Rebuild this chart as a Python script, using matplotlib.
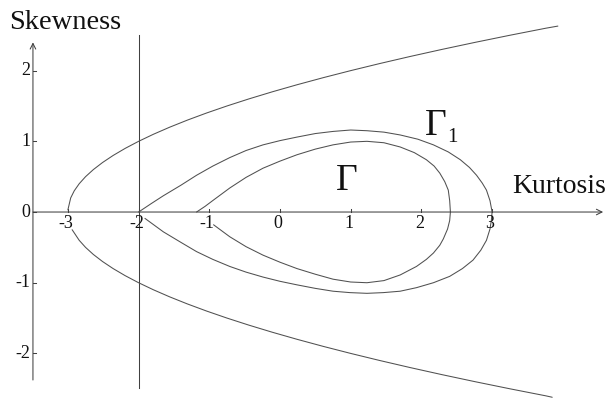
import matplotlib
matplotlib.use("Agg")
import matplotlib.pyplot as plt

# ---- data ----
outer_upper_k = [-3.00, -2.96, -2.91, -2.84, -2.75, -2.64, -2.51, -2.36, -2.19, -2.00, -1.79, -1.56, -1.31,
                 -1.04, -0.75, -0.44, -0.11, 0.24, 0.61, 1.00, 1.41, 1.84, 2.29, 2.76, 3.25, 3.76, 3.93]
outer_upper_s = [0.03, 0.20, 0.30, 0.40, 0.50, 0.60, 0.70, 0.80, 0.90, 1.00, 1.10, 1.20, 1.30,
                 1.40, 1.50, 1.60, 1.70, 1.80, 1.90, 2.00, 2.10, 2.20, 2.30, 2.40, 2.50, 2.60, 2.63]
outer_lower_k = [-2.94, -2.84, -2.75, -2.64, -2.51, -2.36, -2.19, -2.00, -1.79, -1.56, -1.31,
                 -1.04, -0.75, -0.44, -0.11, 0.24, 0.61, 1.00, 1.41, 1.84, 2.29, 2.76, 3.25, 3.76, 3.85]
outer_lower_s = [-0.25, -0.40, -0.50, -0.60, -0.70, -0.80, -0.90, -1.00, -1.10, -1.20, -1.30,
                 -1.40, -1.50, -1.60, -1.70, -1.80, -1.90, -2.00, -2.10, -2.20, -2.30, -2.40, -2.50, -2.60, -2.62]

g1_upper_k = [-2.00, -1.82, -1.65, -1.40, -1.18, -0.95, -0.71, -0.48, -0.24, 0.00, 0.24, 0.50, 0.75, 1.00,
              1.23, 1.47, 1.70, 1.95, 2.17, 2.38, 2.55, 2.68, 2.78, 2.86, 2.92, 2.97, 3.00]
g1_upper_s = [0.00, 0.12, 0.23, 0.38, 0.52, 0.65, 0.77, 0.87, 0.95, 1.01, 1.06, 1.11, 1.14, 1.16,
              1.15, 1.13, 1.09, 1.03, 0.95, 0.85, 0.74, 0.63, 0.52, 0.41, 0.31, 0.16, 0.00]
g1_lower_k = [-1.91, -1.65, -1.40, -1.18, -0.95, -0.71, -0.48, -0.24, 0.00, 0.24, 0.50, 0.75, 0.99,
              1.23, 1.46, 1.70, 1.93, 2.17, 2.40, 2.58, 2.73, 2.84, 2.92, 2.97, 2.99, 3.00]
g1_lower_s = [-0.09, -0.28, -0.43, -0.56, -0.67, -0.77, -0.85, -0.92, -0.98, -1.03, -1.08, -1.12, -1.14,
              -1.15, -1.14, -1.12, -1.07, -1.00, -0.91, -0.80, -0.68, -0.54, -0.40, -0.24, -0.11, 0.00]

g_upper_k = [-1.18, -1.06, -0.94, -0.71, -0.48, -0.24, 0.00, 0.24, 0.50, 0.75, 1.00, 1.23, 1.47,
             1.70, 1.90, 2.07, 2.18, 2.26, 2.33, 2.38, 2.40, 2.41]
g_upper_s = [0.00, 0.08, 0.17, 0.34, 0.49, 0.62, 0.72, 0.81, 0.89, 0.95, 0.99, 1.00, 0.98,
             0.92, 0.84, 0.74, 0.65, 0.55, 0.43, 0.31, 0.16, 0.00]
g_lower_k = [-0.94, -0.71, -0.48, -0.24, 0.00, 0.24, 0.50, 0.75, 1.00, 1.23, 1.47, 1.70, 1.93,
             2.07, 2.17, 2.26, 2.31, 2.37, 2.40, 2.41]
g_lower_s = [-0.18, -0.35, -0.49, -0.61, -0.71, -0.80, -0.88, -0.95, -0.99, -1.00, -0.97, -0.89, -0.77,
             -0.67, -0.58, -0.47, -0.38, -0.24, -0.12, 0.00]

x_ticks = [-3, -2, -1, 0, 1, 2, 3]
x_tick_labels = ["-3", "-2", "-1", "0", "1", "2", "3"]
y_ticks = [2, 1, 0, -1, -2]
y_tick_labels = ["2", "1", "0", "-1", "-2"]

# ---- figure ----
SERIF = ["Liberation Serif", "DejaVu Serif"]
fig = plt.figure(figsize=(6.08, 4.01), dpi=100)
ax = fig.add_axes([0, 0, 1, 1])
ax.set_xlim(-3.960, 4.639)
ax.set_ylim(-2.673, 2.999)
ax.axis("off")

AX_C = "#404040"
CURVE_C = "#505050"
LW = 0.75

# axes lines
ax.annotate("", xy=(4.57, 0), xytext=(-3.494, 0),
            arrowprops=dict(arrowstyle="->", color=AX_C, lw=LW, mutation_scale=10, shrinkA=0, shrinkB=0))
ax.annotate("", xy=(-3.494, 2.40), xytext=(-3.494, -2.376),
            arrowprops=dict(arrowstyle="->", color=AX_C, lw=LW, mutation_scale=10, shrinkA=0, shrinkB=0))
ax.plot([-2, -2], [-2.49, 2.50], color=AX_C, lw=LW)

# ticks
for t in x_ticks:
    ax.plot([t, t], [0, 0.045], color=AX_C, lw=LW)
for t in y_ticks:
    ax.plot([-3.494, -3.45], [t, t], color=AX_C, lw=LW)

for t, lab in zip(x_ticks, x_tick_labels):
    ax.text(t - 0.03, -0.045, lab, ha="center", va="top", fontsize=13, family=SERIF, color="#111111")
for t, lab in zip(y_ticks, y_tick_labels):
    ax.text(-3.53, t, lab, ha="right", va="center", fontsize=13, family=SERIF, color="#111111")

# curves
for k, s in [(outer_upper_k, outer_upper_s), (outer_lower_k, outer_lower_s),
             (g1_upper_k, g1_upper_s), (g1_lower_k, g1_lower_s),
             (g_upper_k, g_upper_s), (g_lower_k, g_lower_s)]:
    ax.plot(k, s, color=CURVE_C, lw=LW, solid_capstyle="round", solid_joinstyle="round")

# labels
ax.text(-3.83, 2.588, "Skewness", ha="left", va="baseline", fontsize=20.5, family=SERIF, color="#111111")
ax.text(3.28, 0.269, "Kurtosis", ha="left", va="baseline", fontsize=20, family=SERIF, color="#111111")
ax.text(0.79, 0.311, "Γ", ha="left", va="baseline", fontsize=27, family=SERIF, color="#111111")
ax.text(2.05, 1.089, "Γ", ha="left", va="baseline", fontsize=27, family=SERIF, color="#111111")
ax.text(2.37, 0.99, "1", ha="left", va="baseline", fontsize=15, family=SERIF, color="#111111")

fig.savefig("out.png", dpi=100)
